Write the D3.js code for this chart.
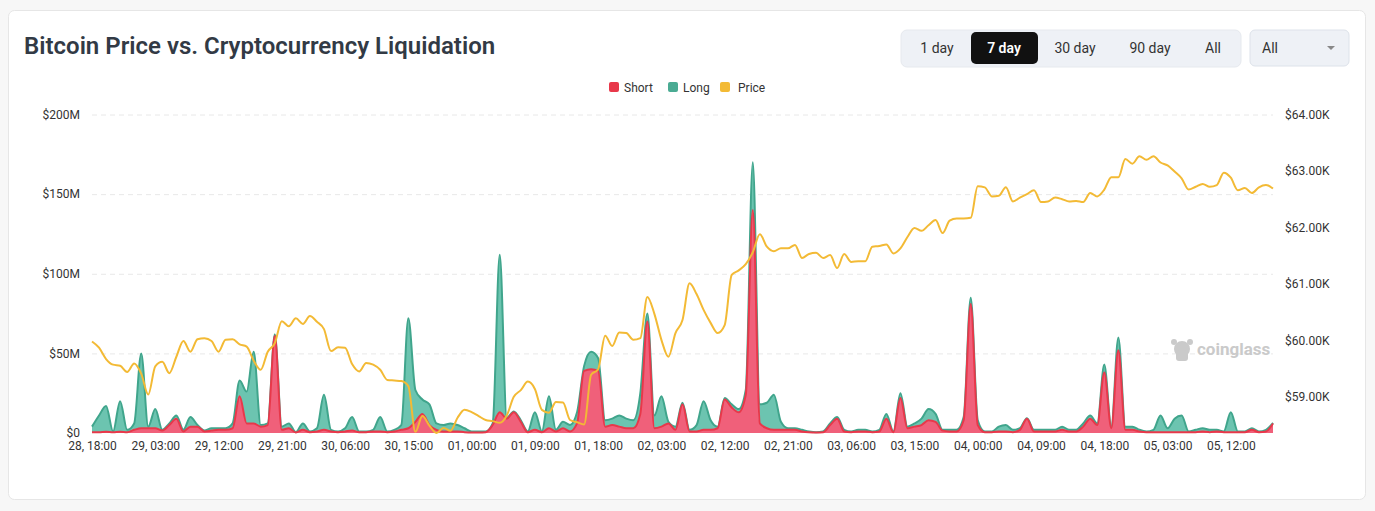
<!DOCTYPE html>
<html>
<head>
    <meta charset="utf-8" />
    <title>Bitcoin Price vs. Cryptocurrency Liquidation</title>
    <script src="https://cdn.jsdelivr.net/npm/d3@7"></script>
    <style>
        body {
            margin: 0;
            background-color: #f7f7f7;
            font-family: Roboto, "Noto Sans", sans-serif;
        }

        .axis text {
            font-size: 12px;
            fill: #333;
            font-family: Roboto, "Noto Sans", sans-serif;
        }
    </style>
</head>
<body>
    <script>
        // hourly data, 28 18:00 -> 05 18:00
        var shortLiq = [ // $M
            0.5, 0.5, 0.8, 0.5, 0.8, 0.5, 2, 3, 3, 3,
            1.5, 5, 9, 1, 4, 4, 1, 1.5, 2, 2,
            3, 23, 6, 6, 4, 5, 61, 2, 3, 0.3,
            2, 0.5, 1, 2, 1, 0.5, 1, 1.5, 0.5, 0.5,
            1, 1, 0.5, 1, 2, 3, 7, 12, 5, 2,
            1, 1, 1, 0.5, 0.3, 0.3, 0.5, 5, 13, 9,
            13, 7, 0.5, 2, 0.5, 3, 1, 3, 1, 6,
            39, 40, 39, 4, 5, 4, 3, 3, 12, 70,
            3, 4, 6, 2, 18, 1, 1, 2, 2, 3,
            21, 16, 13, 24, 140, 6, 3, 2, 2, 2,
            2, 1, 0.5, 0.3, 0.5, 5, 9, 1, 0.5, 1,
            1, 0.5, 1, 9, 0.5, 22, 3, 4, 5, 8,
            7, 1.5, 1, 1, 8, 81, 5, 0.5, 0.5, 1,
            1, 0.5, 2, 9, 1, 1, 1, 1, 2, 1,
            1, 4, 9, 5, 38, 3, 52, 2, 2, 1,
            0.5, 0.5, 0.5, 0.5, 0.5, 0.5, 0.5, 0.5, 1, 0.5,
            1, 0.5, 0.5, 0.5, 0.5, 2, 0.5, 1, 6
        ];
        var longLiq = [ // $M
            3.5, 10.5, 16.2, 0.5, 19.2, 1.5, 4, 47, 1, 12,
            0.5, 1, 2, 1, 6, 1, 0.5, 1.5, 1, 1,
            3, 10, 20, 45, 1, 1, 1, 2, 3, 0.2,
            4, 0.5, 2, 22, 1, 0.5, 2, 8.5, 0.5, 0.5,
            1, 9, 0.5, 1, 3, 69, 20, 9, 13, 4,
            4, 5, 4, 2.5, 0.7, 0.7, 0.5, 1, 99, 0.5,
            0.5, 1, 0.5, 11, 0.5, 20, 1, 4, 4, 7,
            3, 11, 8, 4, 4, 7, 6, 5, 13, 5,
            8, 19, 1, 2, 1, 1, 4, 18, 6, 1,
            1, 2, 2, 3, 30, 12, 16, 22, 5, 1,
            1, 1, 0.5, 0.2, 0.5, 1, 1, 1, 0.5, 1,
            1, 0.5, 1, 3, 0.5, 3, 1, 2, 4, 7,
            5, 0.5, 1, 1, 2, 4, 3, 0.5, 0.5, 3,
            4, 1.5, 1, 0.3, 1, 1, 1, 1, 2, 1,
            1, 2, 2, 1, 5, 1, 8, 2, 2, 1,
            0.5, 1.5, 10.5, 2.5, 8.5, 10.5, 0.5, 1.5, 2, 1.5,
            1, 0.5, 12.5, 0.5, 0.5, 1, 0.5, 1, 0.3
        ];
        var price = [ // $K
            59.98, 59.87, 59.67, 59.57, 59.55, 59.44, 59.59, 59.41, 59.04, 59.54,
            59.62, 59.42, 59.71, 59.99, 59.80, 60.02, 60.04, 59.99, 59.80, 60.01,
            60.02, 59.93, 59.89, 59.64, 59.48, 59.80, 59.95, 60.34, 60.25, 60.39,
            60.29, 60.43, 60.33, 60.20, 59.81, 59.88, 59.87, 59.58, 59.45, 59.60,
            59.57, 59.48, 59.30, 59.29, 59.28, 59.19, 58.38, 58.66, 58.49, 58.36,
            58.45, 58.40, 58.63, 58.77, 58.73, 58.66, 58.59, 58.57, 58.54, 58.67,
            59.00, 59.12, 59.27, 59.14, 58.77, 58.72, 58.91, 58.90, 58.59, 58.55,
            58.51, 59.39, 59.49, 60.08, 59.90, 60.14, 60.13, 60.01, 60.04, 60.77,
            60.47, 60.01, 59.71, 60.13, 60.36, 61.01, 60.82, 60.54, 60.31, 60.13,
            60.27, 61.16, 61.24, 61.35, 61.56, 61.88, 61.66, 61.58, 61.63, 61.63,
            61.69, 61.46, 61.53, 61.55, 61.46, 61.51, 61.28, 61.53, 61.39, 61.40,
            61.40, 61.66, 61.67, 61.70, 61.54, 61.63, 61.83, 61.99, 61.94, 62.04,
            62.13, 61.90, 62.12, 62.16, 62.16, 62.17, 62.73, 62.71, 62.55, 62.56,
            62.71, 62.46, 62.53, 62.59, 62.66, 62.45, 62.46, 62.53, 62.50, 62.46,
            62.47, 62.45, 62.61, 62.55, 62.67, 62.89, 62.89, 63.21, 63.13, 63.26,
            63.20, 63.26, 63.15, 63.10, 62.99, 62.87, 62.67, 62.72, 62.77, 62.72,
            62.75, 62.97, 62.88, 62.66, 62.70, 62.61, 62.71, 62.75, 62.69
        ];
        var xTickLabels = ["28, 18:00", "29, 03:00", "29, 12:00", "29, 21:00", "30, 06:00", "30, 15:00",
            "01, 00:00", "01, 09:00", "01, 18:00", "02, 03:00", "02, 12:00", "02, 21:00", "03, 06:00",
            "03, 15:00", "04, 00:00", "04, 09:00", "04, 18:00", "05, 03:00", "05, 12:00"];
        var leftTicks = [0, 50, 100, 150, 200];
        var rightTicks = [59, 60, 61, 62, 63, 64];
        var ranges = ["1 day", "7 day", "30 day", "90 day", "All"];
        var legendItems = ["Short", "Long", "Price"];

        var colShort = "#e8384a", colShortFill = "#f0607a";
        var colLong = "#40a58c", colLongFill = "#6cc4b0";
        var colPrice = "#f3ba35";

        var svg = d3.select("body").append("svg").attr("width", 1375).attr("height", 511);

        // card
        svg.append("rect").attr("x", 8.5).attr("y", 10.5).attr("width", 1357).attr("height", 489)
            .attr("rx", 6).attr("fill", "#fff").attr("stroke", "#e6e6e6");

        svg.append("text").attr("x", 24).attr("y", 54)
            .style("font-size", "24px").style("font-weight", 600).style("fill", "#323a45")
            .text("Bitcoin Price vs. Cryptocurrency Liquidation");

        // range buttons
        svg.append("rect").attr("x", 901).attr("y", 30).attr("width", 340).attr("height", 37)
            .attr("rx", 6).attr("fill", "#eef1f6").attr("stroke", "#e6e9ee");
        svg.append("rect").attr("x", 971).attr("y", 32).attr("width", 67).attr("height", 32)
            .attr("rx", 5).attr("fill", "#111");
        var btnX = [937, 1004, 1075, 1150, 1213];
        svg.selectAll(".btn").data(ranges).enter().append("text")
            .attr("x", function (d, i) { return btnX[i]; }).attr("y", 53)
            .attr("text-anchor", "middle")
            .style("font-size", "14px")
            .style("font-weight", function (d) { return d == "7 day" ? 600 : 400; })
            .style("fill", function (d) { return d == "7 day" ? "#fff" : "#333"; })
            .text(function (d) { return d; });

        // dropdown
        svg.append("rect").attr("x", 1250).attr("y", 30).attr("width", 99).attr("height", 36)
            .attr("rx", 5).attr("fill", "#eef1f6").attr("stroke", "#dde2ea");
        svg.append("text").attr("x", 1262).attr("y", 53).style("font-size", "14px").style("fill", "#333").text("All");
        svg.append("path").attr("d", "M1327,46 L1335,46 L1331,50 Z").attr("fill", "#888");

        // legend
        var legCol = [colShort, "#4aab93", colPrice];
        var legX = [609, 668, 720];
        var leg = svg.selectAll(".leg").data(legendItems).enter().append("g")
            .attr("transform", function (d, i) { return "translate(" + legX[i] + ",82)"; });
        leg.append("rect").attr("width", 10).attr("height", 10).attr("rx", 2)
            .attr("fill", function (d, i) { return legCol[i]; });
        leg.append("text").attr("x", function (d, i) { return i == 2 ? 18 : 15; }).attr("y", 9.5)
            .style("font-size", "12px").style("fill", "#333").text(function (d) { return d; });

        var x = d3.scaleLinear().domain([0, price.length - 1]).range([92, 1273]);
        var yL = d3.scaleLinear().domain([0, 200]).range([433, 114.5]);
        var yR = d3.scaleLinear().domain([d3.min(price), 64]).range([433, 114.5]);

        // grid
        svg.append("g").attr("transform", "translate(92,0)")
            .call(d3.axisLeft(yL).tickValues(leftTicks.slice(1)).tickSize(-(1273 - 92)).tickFormat(""))
            .call(function (g) { g.select(".domain").remove(); })
            .selectAll("line").attr("stroke", "#e8e8e8").attr("stroke-dasharray", "5,4");

        // watermark
        var wm = svg.append("g").attr("fill", "#cacaca");
        wm.append("circle").attr("cx", 1182).attr("cy", 349).attr("r", 8);
        wm.append("rect").attr("x", 1176).attr("y", 350).attr("width", 12).attr("height", 11).attr("rx", 3);
        wm.append("circle").attr("cx", 1174).attr("cy", 342).attr("r", 3);
        wm.append("circle").attr("cx", 1190).attr("cy", 342).attr("r", 3);
        wm.append("text").attr("x", 1197).attr("y", 355).style("font-size", "17px").style("font-weight", 700)
            .text("coinglass");

        // stacked liquidation areas
        var rows = shortLiq.map(function (s, i) { return { i: i, short: s, long: longLiq[i] }; });
        var stacked = d3.stack().keys(["short", "long"])(rows);
        var area = d3.area().curve(d3.curveMonotoneX)
            .x(function (d) { return x(d.data.i); })
            .y0(function (d) { return yL(d[0]); })
            .y1(function (d) { return yL(d[1]); });
        var topLine = d3.line().curve(d3.curveMonotoneX)
            .x(function (d) { return x(d.data.i); })
            .y(function (d) { return yL(d[1]); });

        svg.append("path").attr("d", area(stacked[1])).attr("fill", colLongFill);
        svg.append("path").attr("d", topLine(stacked[1])).attr("fill", "none").attr("stroke", colLong).attr("stroke-width", 2);
        svg.append("path").attr("d", area(stacked[0])).attr("fill", colShortFill);
        svg.append("path").attr("d", topLine(stacked[0])).attr("fill", "none").attr("stroke", colShort).attr("stroke-width", 2);

        // price
        var priceLine = d3.line().curve(d3.curveMonotoneX)
            .x(function (d, i) { return x(i); })
            .y(function (d) { return yR(d); });
        svg.append("path").attr("d", priceLine(price)).attr("fill", "none")
            .attr("stroke", colPrice).attr("stroke-width", 2);

        // axes
        svg.append("g").attr("class", "axis").attr("transform", "translate(80,0)")
            .call(d3.axisLeft(yL).tickValues(leftTicks).tickSize(0).tickPadding(0)
                .tickFormat(function (d) { return d == 0 ? "$0" : "$" + d + "M"; }))
            .call(function (g) { g.select(".domain").remove(); });

        svg.append("g").attr("class", "axis").attr("transform", "translate(1285,0)")
            .call(d3.axisRight(yR).tickValues(rightTicks).tickSize(0).tickPadding(0)
                .tickFormat(function (d) { return "$" + d.toFixed(2) + "K"; }))
            .call(function (g) { g.select(".domain").remove(); });

        svg.append("g").attr("class", "axis").attr("transform", "translate(0,441)")
            .call(d3.axisBottom(x).tickValues(d3.range(0, price.length, 9)).tickSize(0).tickPadding(0)
                .tickFormat(function (d, i) { return xTickLabels[i]; }))
            .call(function (g) { g.select(".domain").remove(); });
    </script>
</body>
</html>
